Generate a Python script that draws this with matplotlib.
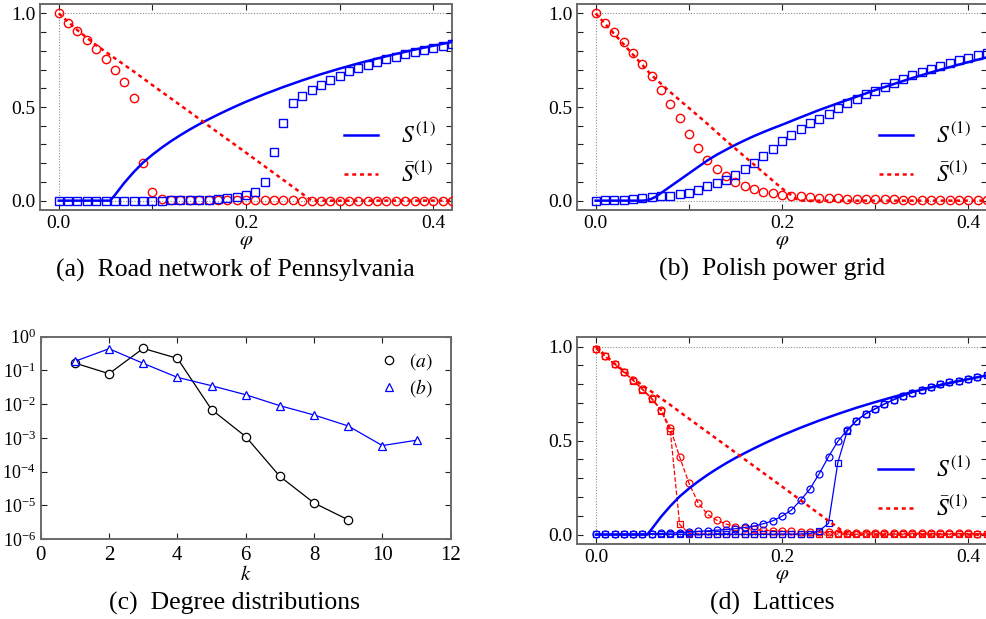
import numpy as np
import matplotlib
matplotlib.use("Agg")
import matplotlib.pyplot as plt
from matplotlib.lines import Line2D
from matplotlib.ticker import NullLocator, FixedLocator

plt.rcParams["font.family"] = "serif"
plt.rcParams["font.serif"] = ["Liberation Serif", "DejaVu Serif"]
plt.rcParams["mathtext.fontset"] = "stix"

RED = "#ff0000"
BLUE = "#0000ff"

# ---------------------------------------------------------------- data
# fraction of removed nodes at which the simulations were sampled
phi = np.round(np.arange(0, 0.4201, 0.01), 2)

# message-passing theory, shared by the road network and the lattices
phi_S_th = [0.0, 0.055, 0.06, 0.07, 0.08, 0.09, 0.10, 0.11, 0.12, 0.13, 0.14,
            0.15, 0.16, 0.17, 0.18, 0.19, 0.20, 0.22, 0.24, 0.26, 0.28, 0.30,
            0.32, 0.34, 0.36, 0.38, 0.40, 0.42]
S_th = [0.0, 0.0, 0.03, 0.095, 0.152, 0.203, 0.245, 0.283, 0.318, 0.35, 0.38,
        0.408, 0.434, 0.459, 0.483, 0.506, 0.528, 0.569, 0.607, 0.642, 0.675,
        0.705, 0.733, 0.759, 0.783, 0.806, 0.827, 0.847]
phi_Sbar_th = [0.0, 0.01, 0.02, 0.03, 0.04, 0.05, 0.06, 0.08, 0.10, 0.12, 0.14,
               0.16, 0.18, 0.20, 0.22, 0.24, 0.26, 0.27, 0.42]
Sbar_th = [1.0, 0.955, 0.91, 0.87, 0.83, 0.795, 0.76, 0.69, 0.617, 0.545, 0.473,
           0.40, 0.328, 0.256, 0.183, 0.11, 0.037, 0.0, 0.0]

# (a) Road network of Pennsylvania, simulations
Sbar_sim_a = [1.0, 0.95, 0.904, 0.858, 0.808, 0.758, 0.70, 0.636, 0.547, 0.20,
              0.046, 0.011, 0.006, 0.004, 0.003, 0.003, 0.002, 0.002, 0.002,
              0.001, 0.001, 0.001, 0.001, 0.001, 0.001, 0.001, 0.0, 0.0, 0.0,
              0.0, 0.0, 0.0, 0.0, 0.0, 0.0, 0.0, 0.0, 0.0, 0.0, 0.0, 0.0, 0.0, 0.0]
S_sim_a = [0.0, 0.0, 0.0, 0.0, 0.0, 0.0, 0.0, 0.0, 0.0, 0.0, 0.0, 0.0, 0.001,
           0.001, 0.001, 0.002, 0.005, 0.009, 0.012, 0.019, 0.032, 0.046, 0.098,
           0.26, 0.415, 0.522, 0.561, 0.591, 0.62, 0.645, 0.668, 0.69, 0.708,
           0.725, 0.741, 0.756, 0.769, 0.782, 0.794, 0.805, 0.815, 0.825, 0.835]

# (b) Polish power grid, theory
phi_S_th_b = [0.0, 0.05, 0.055, 0.06, 0.065, 0.07, 0.08, 0.09, 0.10, 0.11, 0.12,
              0.13, 0.14, 0.15, 0.16, 0.17, 0.18, 0.19, 0.20, 0.22, 0.24, 0.26,
              0.28, 0.30, 0.32, 0.34, 0.36, 0.38, 0.40, 0.42]
S_th_b = [0.0, 0.0, 0.002, 0.01, 0.022, 0.04, 0.075, 0.11, 0.145, 0.18, 0.215,
          0.245, 0.272, 0.298, 0.322, 0.345, 0.366, 0.386, 0.405, 0.445, 0.484,
          0.52, 0.555, 0.59, 0.623, 0.655, 0.685, 0.713, 0.74, 0.765]
phi_Sbar_th_b = [0.0, 0.02, 0.04, 0.06, 0.08, 0.10, 0.12, 0.14, 0.16, 0.18,
                 0.20, 0.21, 0.215, 0.22, 0.42]
Sbar_th_b = [1.0, 0.89, 0.78, 0.67, 0.58, 0.495, 0.41, 0.32, 0.235, 0.15,
             0.065, 0.03, 0.01, 0.0, 0.0]

# (b) Polish power grid, simulations
Sbar_sim_b = [1.0, 0.95, 0.90, 0.845, 0.79, 0.73, 0.663, 0.592, 0.515, 0.439,
              0.357, 0.281, 0.218, 0.17, 0.133, 0.101, 0.076, 0.06, 0.046, 0.039,
              0.032, 0.027, 0.023, 0.02, 0.016, 0.014, 0.012, 0.011, 0.009,
              0.009, 0.008, 0.007, 0.007, 0.006, 0.006, 0.005, 0.005, 0.005,
              0.004, 0.004, 0.004, 0.003, 0.003]
S_sim_b = [0.0, 0.003, 0.004, 0.005, 0.009, 0.014, 0.018, 0.023, 0.027, 0.034,
           0.043, 0.057, 0.076, 0.094, 0.11, 0.135, 0.167, 0.203, 0.238, 0.275,
           0.316, 0.35, 0.383, 0.412, 0.437, 0.465, 0.494, 0.519, 0.544, 0.567,
           0.588, 0.609, 0.63, 0.65, 0.67, 0.687, 0.705, 0.721, 0.737, 0.751,
           0.764, 0.776, 0.787]

# (c) degree distributions
k_a = [1, 2, 3, 4, 5, 6, 7, 8, 9]
P_a = [0.165, 0.080, 0.45, 0.228, 0.0069, 0.00109, 7.2e-5, 1.17e-5, 3.7e-6]
k_b = [1, 2, 3, 4, 5, 6, 7, 8, 9, 10, 11]
P_b = [0.186, 0.44, 0.162, 0.0623, 0.0352, 0.019, 0.009, 0.00476, 0.00225,
       0.00059, 0.00085]

# (d) lattices, simulations (circles and squares: two lattice types)
Sbar_circ_d = [0.99, 0.948, 0.907, 0.866, 0.822, 0.775, 0.725, 0.665, 0.566,
               0.413, 0.274, 0.168, 0.108, 0.076, 0.056, 0.043, 0.034, 0.028,
               0.023, 0.021, 0.019, 0.017, 0.016, 0.014, 0.013, 0.012, 0.011,
               0.010, 0.010, 0.009, 0.009, 0.008, 0.008, 0.008, 0.007, 0.007,
               0.007, 0.006, 0.006, 0.006, 0.006, 0.005, 0.005]
Sbar_sq_d = [0.99, 0.948, 0.907, 0.864, 0.82, 0.772, 0.722, 0.66, 0.55, 0.054,
             0.006, 0.004, 0.004, 0.004, 0.003, 0.003, 0.003, 0.003, 0.003,
             0.003, 0.003, 0.003, 0.003, 0.003, 0.003, 0.003, 0.003, 0.002,
             0.002, 0.002, 0.002, 0.002, 0.002, 0.002, 0.002, 0.002, 0.002,
             0.002, 0.002, 0.002, 0.002, 0.002, 0.002]
S_circ_d = [0.002, 0.002, 0.002, 0.003, 0.003, 0.004, 0.005, 0.006, 0.008,
            0.010, 0.013, 0.017, 0.020, 0.024, 0.027, 0.031, 0.038, 0.045,
            0.058, 0.073, 0.098, 0.130, 0.183, 0.243, 0.324, 0.415, 0.496,
            0.556, 0.607, 0.643, 0.669, 0.695, 0.718, 0.738, 0.756, 0.772,
            0.786, 0.799, 0.81, 0.82, 0.829, 0.838, 0.847]
S_sq_d = [0.001, 0.001, 0.001, 0.001, 0.001, 0.001, 0.001, 0.001, 0.001,
          0.001, 0.001, 0.001, 0.001, 0.001, 0.001, 0.001, 0.001, 0.001,
          0.001, 0.002, 0.002, 0.002, 0.003, 0.005, 0.02, 0.06, 0.383, 0.55,
          0.607, 0.643, 0.669, 0.695, 0.718, 0.738, 0.756, 0.772, 0.786,
          0.799, 0.81, 0.82, 0.829, 0.838, 0.847]

captions = ["(a)  Road network of Pennsylvania", "(b)  Polish power grid",
            "(c)  Degree distributions", "(d)  Lattices"]

# ---------------------------------------------------------------- figure
W, H = 987, 619
fig = plt.figure(figsize=(W / 100, H / 100), dpi=100)


def px_axes(x0, y0, x1, y1):
    """Axes from pixel box (left, top, right, bottom)."""
    return fig.add_axes([x0 / W, 1 - y1 / H, (x1 - x0) / W, (y1 - y0) / H])


axA = px_axes(40, 4, 452, 210)
axB = px_axes(577, 4, 987, 210)
axC = px_axes(40.7, 336.7, 450.7, 539)
axD = px_axes(577.3, 337.3, 986.7, 544)

SPINE = "#6a6a6a"
TICKSIZE = 14


def style(ax):
    for s in ax.spines.values():
        s.set_color(SPINE)
        s.set_linewidth(1.4)
    ax.tick_params(which="both", direction="in", top=True, right=True,
                   length=4.3, width=0.8, color="#222222",
                   labelsize=TICKSIZE, pad=3.5)


def style_phi(ax):
    style(ax)
    ax.set_xlim(-0.02, 0.42)
    ax.set_ylim(-0.05, 1.05)
    ax.xaxis.set_major_locator(FixedLocator([0.0, 0.1, 0.2, 0.3, 0.4]))
    ax.set_xticklabels(["0.0", "", "0.2", "", "0.4"])
    ax.yaxis.set_major_locator(FixedLocator(np.round(np.arange(0, 1.01, 0.1), 1)))
    ax.set_yticklabels(["0.0", "", "", "", "", "0.5", "", "", "", "", "1.0"])
    ax.set_xlabel(r"$\varphi$", fontsize=15, labelpad=0)
    xr = ax.get_xlim()[1]
    guide = dict(color="#8c8c8c", lw=0.8, ls=(0, (1, 1.5)), zorder=0.5)
    ax.hlines([0.0, 1.0], 0.0, xr, **guide)
    ax.vlines(0.0, 0.0, 1.0, **guide)


def theory(ax, px_s, s, px_b, sb):
    ax.plot(px_s, s, color=BLUE, lw=1.8, zorder=4, label=r"$S^{(1)}$")
    ax.plot(px_b, sb, color=RED, lw=1.8, ls=(0, (1.6, 1.5)), zorder=4,
            label=r"$\bar{S}^{(1)}$")
    ax.legend(loc="lower right", bbox_to_anchor=(0.985, 0.066), frameon=False,
              fontsize=17, handlelength=1.45, handletextpad=1.0,
              labelspacing=0.6, borderaxespad=0)


# (a)
style_phi(axA)
axA.plot(phi, Sbar_sim_a, "o", ms=6, mfc="none", mec=RED, mew=1.0, zorder=3)
axA.plot(phi, S_sim_a, "s", ms=5.5, mfc="none", mec=BLUE, mew=1.0, zorder=3)
theory(axA, phi_S_th, S_th, phi_Sbar_th, Sbar_th)

# (b)
style_phi(axB)
axB.plot(phi, Sbar_sim_b, "o", ms=6, mfc="none", mec=RED, mew=1.0, zorder=3)
axB.plot(phi, S_sim_b, "s", ms=5.5, mfc="none", mec=BLUE, mew=1.0, zorder=3)
theory(axB, phi_S_th_b, S_th_b, phi_Sbar_th_b, Sbar_th_b)

# (c)
style(axC)
axC.set_yscale("log")
axC.set_xlim(0, 12)
axC.set_ylim(1e-6, 1)
axC.xaxis.set_major_locator(FixedLocator([0, 2, 4, 6, 8, 10, 12]))
axC.yaxis.set_major_locator(FixedLocator([1e-6, 1e-5, 1e-4, 1e-3, 1e-2, 1e-1, 1]))
axC.yaxis.set_minor_locator(NullLocator())
axC.xaxis.set_minor_locator(NullLocator())
axC.tick_params(axis="y", labelsize=13, pad=3.5)
axC.tick_params(axis="x", labelsize=15, pad=5)
axC.plot(k_a, P_a, "-o", color="black", lw=0.9, ms=6, mfc="white", mew=0.9)
axC.plot(k_b, P_b, "-^", color=BLUE, lw=0.9, ms=6, mfc="white", mew=0.9)
axC.set_xlabel(r"$k$", fontsize=15, labelpad=1)
handles = [Line2D([], [], ls="none", marker="o", ms=6, mfc="none", mec="black", mew=0.9),
           Line2D([], [], ls="none", marker="^", ms=6, mfc="none", mec=BLUE, mew=0.9)]
axC.legend(handles, [r"$(a)$", r"$(b)$"], loc="upper right",
           bbox_to_anchor=(0.975, 0.965), frameon=False, fontsize=14,
           handlelength=1.0, handletextpad=0.5, labelspacing=0.25,
           borderaxespad=0)

# (d)
style_phi(axD)
axD.plot(phi, Sbar_circ_d, "--o", color=RED, lw=0.9, ms=5, mfc="none", mew=0.9, zorder=3)
axD.plot(phi, Sbar_sq_d, "--s", color=RED, lw=0.9, ms=5, mfc="none", mew=0.9, zorder=3)
axD.plot(phi, S_circ_d, "-o", color=BLUE, lw=0.9, ms=5, mfc="none", mew=0.9, zorder=3)
axD.plot(phi, S_sq_d, "-s", color=BLUE, lw=0.9, ms=5, mfc="none", mew=0.9, zorder=3)
theory(axD, phi_S_th, S_th, phi_Sbar_th, Sbar_th)

# captions under each panel
cap_pos = [(235, 270), (772, 269), (235, 603), (772, 603)]
for (cx, cy), text in zip(cap_pos, captions):
    fig.text(cx / W, 1 - cy / H, text, ha="center", va="center", fontsize=18.5)

fig.savefig("out.png", dpi=100)
